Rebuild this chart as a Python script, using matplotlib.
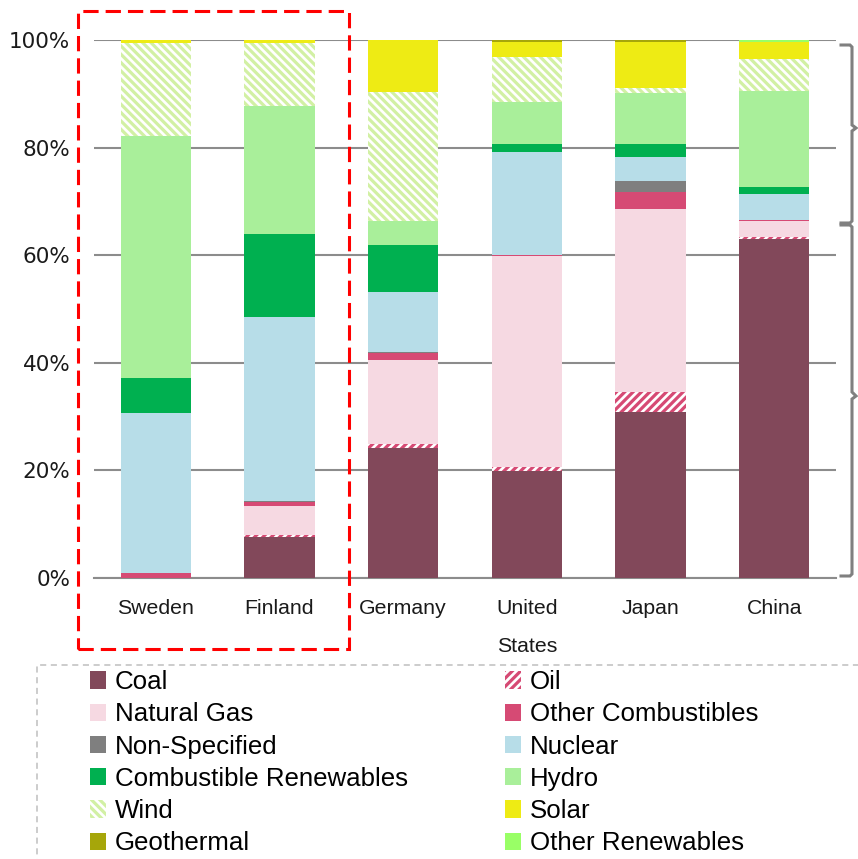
import numpy as np
import matplotlib
matplotlib.use('Agg')
import matplotlib.pyplot as plt
from matplotlib import font_manager
from matplotlib.patches import Rectangle
from matplotlib.lines import Line2D

# share of electricity generation by source, percent
countries = ['Sweden', 'Finland', 'Germany', 'United\nStates', 'Japan', 'China']
coal = [0.0, 7.6, 24.2, 19.8, 30.9, 63.1]
oil = [0.0, 0.4, 0.7, 0.8, 3.7, 0.2]
natural_gas = [0.0, 5.4, 15.7, 39.2, 34.0, 3.1]
other_comb = [0.9, 0.7, 1.2, 0.3, 3.2, 0.2]
non_specified = [0.0, 0.3, 0.2, 0.0, 2.0, 0.0]
nuclear = [29.8, 34.1, 11.2, 19.1, 4.4, 4.7]
comb_renew = [6.5, 15.5, 8.7, 1.5, 2.5, 1.4]
hydro = [45.0, 23.7, 4.5, 7.8, 9.5, 17.8]
wind = [17.2, 11.7, 24.0, 8.4, 0.8, 5.9]
solar = [0.6, 0.6, 9.6, 2.8, 8.7, 3.3]
geothermal = [0.0, 0.0, 0.0, 0.3, 0.3, 0.0]
other_renew = [0.0, 0.0, 0.0, 0.0, 0.0, 0.3]

sources = ['Coal', 'Oil', 'Natural Gas', 'Other Combustibles', 'Non-Specified', 'Nuclear',
           'Combustible Renewables', 'Hydro', 'Wind', 'Solar', 'Geothermal', 'Other Renewables']
values = [coal, oil, natural_gas, other_comb, non_specified, nuclear,
          comb_renew, hydro, wind, solar, geothermal, other_renew]
colors = ['#82485A', '#D64A74', '#F6D9E2', '#D64A74', '#7F7F7F', '#B7DDE8',
          '#00B050', '#A9EF9A', '#D2F0A4', '#EEEB14', '#A6A60A', '#99FF66']
hatches = {'Oil': '////', 'Wind': '\\\\\\\\'}

names = {f.name for f in font_manager.fontManager.ttflist}
narrow = 'Liberation Sans Narrow' if 'Liberation Sans Narrow' in names else 'Liberation Sans'

plt.rcParams['hatch.linewidth'] = 2.3
W, H = 858, 859
fig = plt.figure(figsize=(W / 100, H / 100), dpi=100)
ax = fig.add_axes([94 / W, 1 - 578 / H, 742 / W, 538 / H])

x = np.arange(len(countries))
bottom = np.zeros(len(countries))
handles = {}
for name, vals, col in zip(sources, values, colors):
    vals = np.array(vals)
    if name in hatches:
        bars = ax.bar(x, vals, 0.57, bottom=bottom, facecolor='white', edgecolor=col,
                      hatch=hatches[name], linewidth=0, zorder=3)
    else:
        bars = ax.bar(x, vals, 0.57, bottom=bottom, color=col, linewidth=0, zorder=3)
    handles[name] = bars
    bottom += vals

ax.set_xlim(-0.5, 5.5)
ax.set_ylim(0, 100)
ax.set_yticks([0, 20, 40, 60, 80, 100])
ax.set_yticklabels(['0%', '20%', '40%', '60%', '80%', '100%'], fontsize=15.5,
                   family='DejaVu Sans', color='#1a1a1a')
ax.set_xticks(x)
ax.set_xticklabels(countries, fontsize=15.3, family=narrow, color='#1a1a1a')
for t in ax.get_xticklabels():
    t.set_linespacing(2.3)
ax.tick_params(axis='both', length=0)
ax.tick_params(axis='y', pad=17)
ax.tick_params(axis='x', pad=15)
ax.yaxis.grid(True, color='#8C8C8C', linewidth=1.5, zorder=0)
ax.set_axisbelow(True)
for s in ['top', 'right', 'left']:
    ax.spines[s].set_visible(False)
ax.spines['bottom'].set_color('#8C8C8C')
ax.spines['bottom'].set_linewidth(1.5)


def fx(px):
    return px / W


def fy(py):
    return 1 - py / H


# red dashed highlight box around Sweden and Finland
fig.add_artist(Rectangle((fx(78), fy(649)), fx(349) - fx(78), fy(11) - fy(649),
                         transform=fig.transFigure, fill=False, edgecolor='red',
                         linewidth=2.2, linestyle=(0, (5, 2.3)), clip_on=False))

# grey curly brackets on the right
for pts in [[(841, 45), (850, 45), (852, 47), (852, 125), (856, 128), (852, 131),
             (852, 221), (850, 223), (841, 223)],
            [(841, 225), (850, 225), (852, 227), (852, 392), (856, 396), (852, 399),
             (852, 574), (850, 576), (841, 576)]]:
    fig.add_artist(Line2D([fx(p[0]) for p in pts], [fy(p[1]) for p in pts],
                          transform=fig.transFigure, color='#808080', linewidth=2.2,
                          solid_joinstyle='miter'))

# legend frame (dashed, runs off the figure edges)
fig.add_artist(Rectangle((fx(37), fy(900)), 1.0, fy(665) - fy(900),
                         transform=fig.transFigure, fill=False, edgecolor='#BFBFBF',
                         linewidth=1.1, linestyle=(0, (4, 3)), clip_on=False))

col1 = ['Coal', 'Natural Gas', 'Non-Specified', 'Combustible Renewables', 'Wind', 'Geothermal']
col2 = ['Oil', 'Other Combustibles', 'Nuclear', 'Hydro', 'Solar', 'Other Renewables']
for labels, left in [(col1, 90), (col2, 505)]:
    fig.legend([handles[l] for l in labels], labels, loc='upper left',
               bbox_to_anchor=(fx(left), fy(670)), frameon=False, borderpad=0,
               borderaxespad=0, handlelength=0.6, handleheight=0.65, handletextpad=0.35,
               labelspacing=0.32, prop={'family': narrow, 'size': 18.6})

fig.savefig('out.png', dpi=100)
